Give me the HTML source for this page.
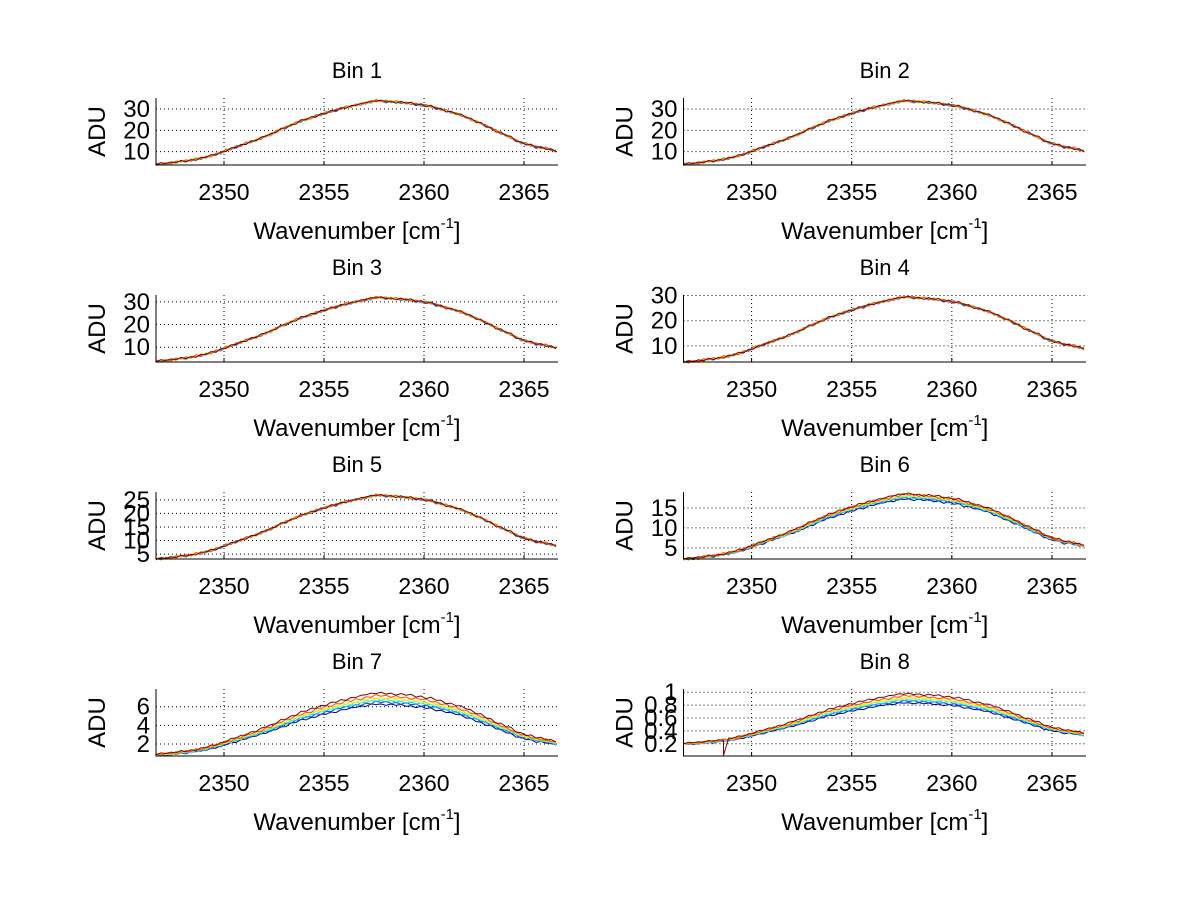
<!DOCTYPE html>
<html><head><meta charset="utf-8"><style>
body{margin:0;background:#fff;}
svg text{font-family:"Liberation Sans",Arial,sans-serif;fill:#000;}
</style></head><body>
<svg id="fig" width="1200" height="901" viewBox="0 0 1200 901" xmlns="http://www.w3.org/2000/svg">
<rect x="0" y="0" width="1200" height="901" fill="#fff"/>
</svg>
<script>
const xMin = 2346.6, xMax = 2366.7;
const xTicks = [2350, 2355, 2360, 2365];
const binNames = ["Bin 1","Bin 2","Bin 3","Bin 4","Bin 5","Bin 6","Bin 7","Bin 8"];
const yMins = [3.7, 3.7, 3.5, 3.6, 3.2, 2.2, 0.71, 0.01];
const yMaxs = [35.2, 35.2, 33, 30.2, 27.9, 19.0, 7.9, 1.05];
const yTicks = [[10,20,30],[10,20,30],[10,20,30],[10,20,30],[5,10,15,20,25],[5,10,15],[2,4,6],[0.2,0.4,0.6,0.8,1]];
const peaks = [34, 34, 32, 29.5, 26.8, 18.6, 7.5, 0.88];
const offsets = [0, 0, 0, 0, 0, 0, 0, 0.1];
const shape = [.12,.125,.13,.135,.15,.155,.165,.175,.19,.2,.22,.235,.26,.28,.31,.33,.36,.38,.41,.43,.45,.48,.51,.53,.57,.6,.63,.66,.69,.72,.74,.76,.79,.81,.83,.85,.87,.89,.91,.92,.94,.95,.97,.98,1.0,.99,.99,.985,.98,.975,.97,.96,.95,.945,.93,.92,.9,.88,.86,.84,.82,.8,.77,.74,.71,.68,.65,.62,.58,.55,.52,.49,.45,.42,.4,.38,.36,.35,.34,.32,.3];
const jitter = [0,.015,-.012,.018,-.01,.008,-.016,.014,-.006,.017,-.013,.009,-.015,.016,-.008,.012,-.018,.011,-.007,.014];
const seriesColors = ["#00008f","#0050ff","#00cfff","#7fff7f","#ffdf00","#ff5000","#800000"];
const seriesScales = [
 [.995,.996,.997,.998,.999,1,1],[.995,.996,.997,.998,.999,1,1],[.995,.996,.997,.998,.999,1,1],
 [.995,.996,.997,.998,.999,1,1],[.995,.996,.997,.998,.999,1,1],
 [.93,.945,.955,.965,.975,.99,1],[.84,.87,.89,.91,.93,.96,1],[.84,.87,.89,.91,.93,.96,1]];
const spikeBin = 7, spikeX = 2348.5, spikeY = 0.02;

const svg = document.getElementById('fig');
const NS = "http://www.w3.org/2000/svg";
function mk(tag, attrs, parent){const e=document.createElementNS(NS,tag);for(const k in attrs)e.setAttribute(k,attrs[k]);(parent||svg).appendChild(e);return e;}

for(let b=0;b<8;b++){
  const col=b%2,row=Math.floor(b/2);
  const L = col===0?156:683.5, R = col===0?558:1086;
  const T = 98+197*row, B = 165+197*row;
  const sx = v => L+(v-xMin)/(xMax-xMin)*(R-L);
  const sy = v => B-(v-yMins[b])/(yMaxs[b]-yMins[b])*(B-T);
  const g = mk('g',{});
  
  
  xTicks.forEach(t=>{
    const l=mk('line',{x1:sx(t),x2:sx(t),y1:T,y2:B,stroke:'#000','stroke-width':1,'stroke-dasharray':'1,3'},g);
    
    
    const tx=mk('text',{x:sx(t),y:B+35,'font-size':23,'text-anchor':'middle'},g);tx.textContent=t;
    
    
    mk('line',{x1:sx(t),x2:sx(t),y1:B,y2:B-4,stroke:'#000'},g);
  });
  yTicks[b].forEach(t=>{
    const l=mk('line',{x1:L,x2:R,y1:sy(t),y2:sy(t),stroke:'#000','stroke-width':1,'stroke-dasharray':'1,3'},g);
    
    
    const tx=mk('text',{x:L-6,y:sy(t)+8,'font-size':24,'text-anchor':'end'},g);tx.textContent=t;
    
    
  });
  const n=shape.length;
  seriesScales[b].forEach((s,k)=>{
    let d='';
    for(let i=0;i<n;i++){
      const xv=xMin+i*0.25;
      let yv=offsets[b]+peaks[b]*s*(shape[i]+jitter[(i+k*3)%jitter.length]);
      if(b===spikeBin&&k===seriesScales[b].length-1&&Math.abs(xv-spikeX)<0.13){
        d+=(i?'L':'M')+sx(xv).toFixed(1)+','+sy(yv).toFixed(1);
        yv=spikeY;
      }
      d+=(i?'L':'M')+sx(Math.min(xv,xMax)).toFixed(1)+','+sy(Math.min(yv,yMaxs[b])).toFixed(1);
    }
    const p=mk('path',{d:d,fill:'none',stroke:seriesColors[k],'stroke-width':1},g);
    
    
  });
  const ax=mk('path',{d:`M${L},${T}L${L},${B}L${R},${B}`,fill:'none',stroke:'#000','stroke-width':1},g);
  
  
  const title=mk('text',{x:(L+R)/2,y:T-20,'font-size':22,'text-anchor':'middle'},g);
  title.textContent=binNames[b];
  
  
  const xl=mk('text',{x:(L+R)/2,y:B+74,'font-size':24,'text-anchor':'middle'},g);
  xl.innerHTML='Wavenumber [cm<tspan font-size="15" dy="-11">-1</tspan><tspan dy="11">]</tspan>';
  
  
  const cx=L-51, cy=(T+B)/2;
  const yl=mk('text',{x:cx,y:cy,'font-size':24,'text-anchor':'middle',transform:`rotate(-90 ${cx} ${cy})`},g);
  yl.textContent='ADU';
  
  
}
</script>
</body></html>
